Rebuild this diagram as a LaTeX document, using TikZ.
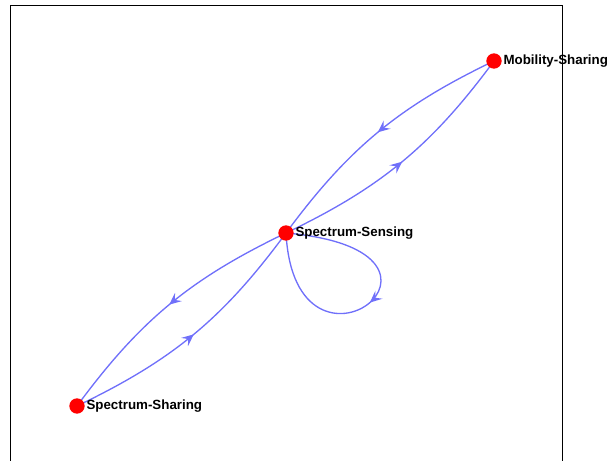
\documentclass[tikz,border=0pt]{standalone}
\usepackage{fontspec}
\setmainfont{Liberation Sans}
\usetikzlibrary{arrows.meta,decorations.markings}
\definecolor{edgecol}{RGB}{112,112,250}
\begin{document}
\begin{tikzpicture}[x=0.75pt,y=0.75pt,
  dot/.style={circle,fill=red,draw=none,minimum size=11.5pt,inner sep=0pt},
  lbl/.style={font=\fontsize{10}{12}\selectfont\bfseries,inner sep=0.5pt,anchor=west,text=black},
  edge/.style={draw=edgecol,line width=1pt},
  midarrow/.style={postaction={decorate},decoration={markings,mark=at position #1 with {\arrow{Stealth[length=9pt,width=8pt,inset=3.5pt,color=edgecol]}}}}]
\useasboundingbox (0,0) rectangle (608,461);
\coordinate (m) at (494,400);
\coordinate (s) at (286,228);
\coordinate (h) at (77,55);
\draw[edge,midarrow=0.5] (m) to[bend right=14] (s);
\draw[edge,midarrow=0.5] (s) to[bend right=14] (m);
\draw[edge,midarrow=0.5] (s) to[bend right=14] (h);
\draw[edge,midarrow=0.5] (h) to[bend right=14] (s);
\draw[edge,midarrow=0.5] (s) .. controls +(-5:210) and +(-87:172) .. (s);
\node[dot] (md) at (m) {};
\node[dot] (sd) at (s) {};
\node[dot] (hd) at (h) {};
\node[lbl] (ml) at ([xshift=0.5pt]md.east) {Mobility-Sharing};
\node[lbl] (sl) at ([xshift=0.5pt]sd.east) {Spectrum-Sensing};
\node[lbl] (hl) at ([xshift=0.5pt]hd.east) {Spectrum-Sharing};
\draw[line width=0.6pt] (10,0) -- (10,455.5) -- (562.5,455.5) -- (562.5,0);
\end{tikzpicture}
\end{document}
